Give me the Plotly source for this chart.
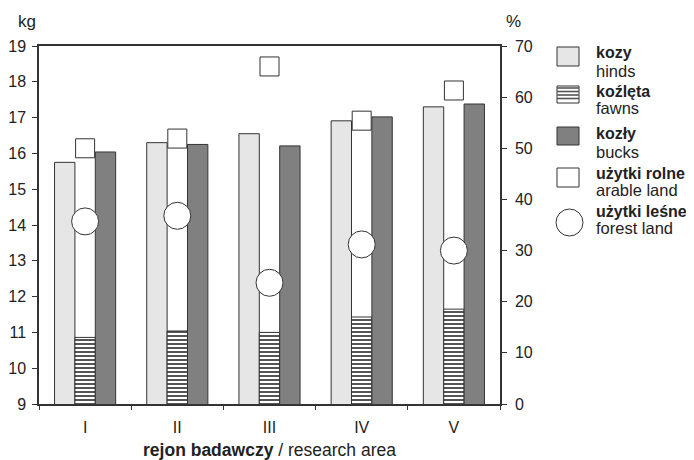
import plotly.graph_objects as go

regions = ["I", "II", "III", "IV", "V"]
hinds_kg = [15.75, 16.30, 16.55, 16.91, 17.30]
fawns_kg = [10.86, 11.04, 11.00, 11.43, 11.65]
bucks_kg = [16.04, 16.25, 16.21, 17.02, 17.38]
arable_pct = [50.0, 51.9, 66.0, 55.4, 61.3]
forest_pct = [35.7, 36.8, 23.7, 31.2, 30.0]

left_ticks = list(range(9, 20))
right_ticks = list(range(0, 80, 10))

legend_bold = ["kozy", "koźlęta", "kozły", "użytki rolne", "użytki leśne"]
legend_en = ["hinds", "fawns", "bucks", "arable land", "forest land"]

FONT = "Liberation Sans, Arial, sans-serif"
EDGE = "#333333"
TXT = "#222222"
LIGHT = "#e6e6e6"
DARK = "#808080"

# the page body has an 8px margin, so the figure is shrunk by that amount
OFF = 8
W, H = 694 - OFF, 460 - OFF
ML, MR, MT, MB = 39 - OFF, 194, 46 - OFF, 56
PW, PH = W - ML - MR, H - MT - MB


def px(x):
    """screen x (px) -> paper x"""
    return (x - OFF - ML) / PW


def py(y):
    """screen y (px) -> paper y"""
    return (H - MB - (y - OFF)) / PH


fig = go.Figure()
fig.add_trace(go.Bar(x=regions, y=hinds_kg, name="kozy",
                     marker=dict(color=LIGHT, line=dict(color=EDGE, width=1))))
fig.add_trace(go.Bar(x=regions, y=fawns_kg, name="koźlęta",
                     marker=dict(color="white", line=dict(color=EDGE, width=1),
                                 pattern=dict(shape="-", fgcolor="#555555", bgcolor="white",
                                              size=4, solidity=0.5))))
fig.add_trace(go.Bar(x=regions, y=bucks_kg, name="kozły",
                     marker=dict(color=DARK, line=dict(color=EDGE, width=1))))
fig.add_trace(go.Scatter(x=regions, y=arable_pct, yaxis="y2", mode="markers",
                         name="użytki rolne",
                         marker=dict(symbol="square", size=19, color="white",
                                     line=dict(color=EDGE, width=1))))
fig.add_trace(go.Scatter(x=regions, y=forest_pct, yaxis="y2", mode="markers",
                         name="użytki leśne",
                         marker=dict(symbol="circle", size=27, color="white",
                                     line=dict(color=EDGE, width=1))))

# ---- manual legend (layout decoration) ----
shapes = []
annotations = []
sym_x0, sym_x1 = 557, 579
sym_boxes = [(47, 66), (86, 103), (127, 145), (168, 187)]
fills = [LIGHT, "white", DARK, "white"]
for (y0, y1), fc in zip(sym_boxes, fills):
    shapes.append(dict(type="rect", xref="paper", yref="paper",
                       x0=px(sym_x0), x1=px(sym_x1), y0=py(y1), y1=py(y0),
                       fillcolor=fc, line=dict(color=EDGE, width=1), layer="above"))
# stripes for koźlęta symbol
y0, y1 = sym_boxes[1]
yy = y0 + 2
while yy < y1 - 1:
    shapes.append(dict(type="line", xref="paper", yref="paper",
                       x0=px(sym_x0), x1=px(sym_x1), y0=py(yy), y1=py(yy),
                       line=dict(color="#555555", width=1.6), layer="above"))
    yy += 3.5
shapes.append(dict(type="circle", xref="paper", yref="paper",
                   x0=px(556), x1=px(583), y0=py(236), y1=py(209),
                   fillcolor="white", line=dict(color=EDGE, width=1), layer="above"))

bold_base = [59, 97, 140, 179, 217]
en_base = [77, 114, 158, 196, 234]
for name, b in zip(legend_bold, bold_base):
    annotations.append(dict(text="<b>%s</b>" % name, xref="paper", yref="paper",
                            x=px(594), y=py(b - 6), xanchor="left", yanchor="middle",
                            showarrow=False, font=dict(size=16, color=TXT)))
for name, b in zip(legend_en, en_base):
    annotations.append(dict(text=name, xref="paper", yref="paper",
                            x=px(594), y=py(b - 6), xanchor="left", yanchor="middle",
                            showarrow=False, font=dict(size=16.5, color=TXT)))
annotations.append(dict(text="kg", xref="paper", yref="paper", x=px(27), y=py(21),
                        xanchor="center", yanchor="middle", showarrow=False,
                        font=dict(size=17, color=TXT)))
annotations.append(dict(text="%", xref="paper", yref="paper", x=px(514), y=py(21),
                        xanchor="center", yanchor="middle", showarrow=False,
                        font=dict(size=17, color=TXT)))

fig.update_layout(
    template="none",
    width=W, height=H,
    margin=dict(l=ML, r=MR, t=MT, b=MB, pad=0),
    paper_bgcolor="white", plot_bgcolor="white",
    font=dict(family=FONT, size=16, color=TXT),
    barmode="group", bargap=0.337, bargroupgap=0,
    showlegend=False,
    xaxis=dict(type="category", showline=True, linecolor=EDGE, linewidth=1.5,
               mirror=True, ticks="outside", ticklen=4, tickcolor=EDGE, tickwidth=1.3,
               tickson="boundaries", showgrid=False, ticklabelstandoff=8,
               automargin=False, tickfont=dict(size=16),
               title=dict(text="<b>rejon badawczy</b> / research area",
                          font=dict(size=17.5), standoff=9)),
    xaxis2=dict(overlaying="x", range=[-0.5, 4.5], tickvals=[0.5, 1.5, 2.5, 3.5],
                ticks="inside", ticklen=4, tickcolor=EDGE, tickwidth=1.3,
                showticklabels=False, showline=False, showgrid=False, zeroline=False,
                automargin=False, side="bottom"),
    yaxis=dict(range=[9, 19], tickvals=left_ticks, showline=True, linecolor=EDGE,
               linewidth=1.5, ticks="outside", ticklen=5, tickcolor=EDGE, tickwidth=1.3,
               showgrid=False, zeroline=False, mirror=False, automargin=False,
               ticklabelstandoff=3, tickfont=dict(size=16)),
    yaxis2=dict(range=[0, 70], tickvals=right_ticks, overlaying="y", side="right",
                showline=True, linecolor=EDGE, linewidth=1.5, ticks="outside",
                ticklen=5, tickcolor=EDGE, tickwidth=1.3, showgrid=False, zeroline=False,
                automargin=False, ticklabelstandoff=5, tickfont=dict(size=16)),
    yaxis3=dict(range=[9, 19], tickvals=left_ticks, overlaying="y", side="left",
                ticks="inside", ticklen=5, tickcolor=EDGE, tickwidth=1.3,
                showticklabels=False, showline=False, showgrid=False, zeroline=False,
                automargin=False),
    yaxis4=dict(range=[0, 70], tickvals=right_ticks, overlaying="y", side="right",
                ticks="inside", ticklen=5, tickcolor=EDGE, tickwidth=1.3,
                showticklabels=False, showline=False, showgrid=False, zeroline=False,
                automargin=False),
    shapes=shapes,
    annotations=annotations,
)

fig.write_html("out.html")
